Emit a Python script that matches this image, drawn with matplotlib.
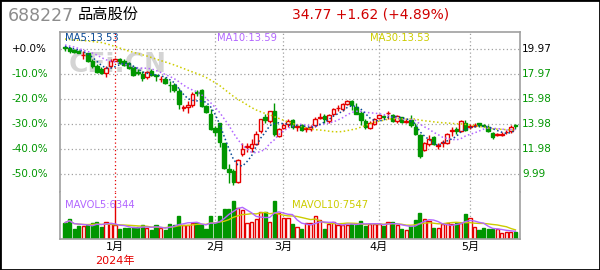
import numpy as np
import pandas as pd
import matplotlib
matplotlib.use('Agg')
import matplotlib.pyplot as plt
import matplotlib.transforms as mtransforms

plt.rcParams['font.family'] = ['DejaVu Sans', 'Noto Sans CJK SC']

# daily OHLC, 2023-12-15 .. 2024-05-20
opens = [20.13, 20.05, 19.92, 19.84, 19.49, 19.65, 19.07, 18.65, 18.39, 18.07,
         18.62, 19.07, 19.20, 19.07, 18.91, 18.52, 18.17, 18.01, 17.75, 18.23,
         17.91, 17.57, 17.59, 17.14, 17.09, 16.61, 15.27, 15.37, 15.53, 16.54,
         16.75, 15.43, 14.77, 13.71, 14.05, 12.47, 10.41, 10.25, 9.40, 11.57,
         12.20, 12.12, 12.44, 13.44, 14.53, 14.24, 15.00, 13.05, 13.68, 14.00,
         14.29, 13.76, 13.89, 13.60, 13.58, 13.95, 14.50, 14.63, 14.26, 14.77,
         15.24, 15.16, 15.61, 15.80, 15.37, 14.90, 14.26, 13.68, 14.00, 14.48,
         14.61, 14.87, 14.69, 14.21, 14.53, 14.18, 14.29, 13.74, 13.10, 11.94,
         12.41, 12.99, 12.28, 12.49, 12.47, 13.47, 13.63, 13.47, 14.10, 13.76,
         13.87, 14.05, 13.92, 13.79, 13.26, 13.15, 13.15, 13.34, 13.42, 13.92]
highs = [20.23, 20.18, 20.00, 19.92, 19.86, 19.71, 19.18, 18.81, 18.54, 18.60,
         19.18, 19.26, 19.28, 19.18, 18.99, 18.60, 18.39, 18.20, 18.23, 18.39,
         17.99, 17.86, 17.75, 17.43, 17.27, 16.88, 15.53, 15.82, 16.54, 16.75,
         16.80, 15.53, 15.21, 13.84, 14.10, 12.52, 10.77, 10.41, 11.20, 12.47,
         12.47, 12.84, 13.42, 14.42, 14.84, 15.06, 15.64, 13.71, 14.10, 14.37,
         14.37, 13.97, 13.97, 13.79, 13.89, 14.58, 14.90, 14.77, 14.84, 15.27,
         15.48, 15.69, 15.95, 15.90, 15.69, 15.00, 14.37, 14.26, 14.50, 14.84,
         14.74, 15.03, 14.77, 14.69, 14.58, 14.42, 14.69, 14.05, 13.18, 12.57,
         13.15, 13.05, 12.52, 12.73, 13.26, 13.74, 13.79, 14.32, 14.32, 14.00,
         14.05, 14.10, 14.00, 13.89, 13.36, 13.31, 13.36, 13.52, 13.89, 14.00]
lows = [19.86, 19.71, 19.71, 19.65, 19.18, 18.99, 18.46, 18.07, 17.99, 17.75,
        18.46, 19.02, 18.81, 18.65, 18.39, 17.86, 17.91, 17.43, 17.57, 17.80,
        17.41, 17.33, 17.20, 16.56, 16.56, 15.21, 15.03, 14.90, 15.37, 16.22,
        15.37, 14.85, 13.52, 13.05, 12.20, 10.41, 9.30, 9.09, 9.30, 11.46,
        11.78, 11.73, 12.36, 13.31, 14.10, 14.10, 13.05, 12.97, 13.58, 13.79,
        13.63, 13.44, 13.42, 13.36, 13.44, 13.79, 14.37, 14.10, 14.05, 14.63,
        15.06, 15.06, 15.48, 15.11, 14.77, 13.95, 13.63, 13.58, 13.95, 14.37,
        14.37, 14.37, 14.16, 14.10, 14.05, 14.05, 13.79, 13.10, 11.30, 11.86,
        12.26, 12.31, 11.99, 12.20, 12.41, 13.05, 13.18, 13.36, 13.42, 13.58,
        13.74, 13.79, 13.79, 13.36, 12.78, 13.05, 13.05, 13.21, 13.31, 13.58]
closes = [20.08, 19.84, 19.79, 19.71, 19.55, 19.07, 18.60, 18.12, 18.07, 18.49,
          19.05, 19.18, 18.86, 18.73, 18.46, 17.91, 18.07, 17.67, 18.17, 17.88,
          17.86, 17.62, 17.27, 17.09, 16.69, 15.56, 15.32, 15.48, 16.43, 16.46,
          15.43, 14.95, 13.63, 13.36, 12.57, 10.46, 10.19, 9.40, 11.09, 12.04,
          12.28, 12.44, 13.23, 14.37, 14.32, 15.00, 13.18, 13.63, 13.95, 14.26,
          13.79, 13.81, 13.50, 13.66, 13.79, 14.37, 14.55, 14.37, 14.74, 15.16,
          15.29, 15.56, 15.82, 15.48, 14.84, 14.32, 13.74, 14.05, 14.42, 14.74,
          14.55, 14.92, 14.21, 14.63, 14.16, 14.24, 13.89, 13.21, 11.41, 12.47,
          12.78, 12.41, 12.33, 12.55, 13.21, 13.52, 13.42, 14.21, 13.52, 13.81,
          13.92, 13.89, 13.87, 13.44, 12.99, 13.21, 13.21, 13.39, 13.79, 13.87]
volumes = [13350, 16290, 8010, 10950, 10680, 11480, 12820, 13880, 9880, 13620,
           12820, 11480, 8280, 8810, 8810, 9610, 10150, 11480, 9080, 7480,
           11750, 8810, 7480, 12280, 11480, 18690, 11750, 11750, 13080, 12820,
           11750, 8280, 18690, 12820, 18960, 24300, 24300, 30700, 24830, 23500,
           13350, 13620, 16290, 21890, 21890, 13880, 30700, 21360, 17090, 17090,
           12550, 9610, 8280, 13350, 13350, 18690, 15490, 8280, 12020, 13620,
           11750, 11210, 11750, 12550, 11750, 14690, 10950, 12020, 12550, 12020,
           10950, 13620, 13880, 11210, 8280, 7480, 10680, 15490, 21090, 16290,
           14690, 9350, 9350, 12020, 12820, 12020, 12820, 12820, 20290, 17090,
           10150, 7480, 9350, 8280, 8280, 8280, 5070, 6140, 6140, 6140]

# moving averages before the window starts
ma5_head = [20.20, 20.10, 20.00, 19.90]
ma10_head = [20.31, 20.23, 20.15, 20.03, 19.91, 19.79, 19.67, 19.51, 19.31]
ma30_head = [20.79, 20.75, 20.71, 20.69, 20.67, 20.63, 20.59, 20.55, 20.51, 20.42,
             20.31, 20.19, 20.07, 19.95, 19.83, 19.73, 19.63, 19.53, 19.43, 19.31,
             19.19, 19.07, 18.96, 18.84, 18.72, 18.58, 18.44, 18.30, 18.16]

base_price = 19.97
pct_levels = [0, -10, -20, -30, -40, -50]
month_idx = [11, 33, 48, 69, 89]
month_labels = ['1月', '2月', '3月', '4月', '5月']

UP = '#e60000'
DOWN = '#009600'
GRID = '#a0a0a0'
C_MA5 = '#0a4a96'
C_MA10 = '#b266ff'
C_MA30 = '#cccc00'

o = np.array(opens)
h = np.array(highs)
l = np.array(lows)
c = np.array(closes)
v = np.array(volumes)
x = np.arange(len(c))
rise = c >= o
cols = np.where(rise, UP, DOWN)
faces = np.where(rise, 'white', DOWN)

s = pd.Series(c)
ma5 = s.rolling(5).mean().values
ma5[:4] = ma5_head
ma10 = s.rolling(10).mean().values
ma10[:9] = ma10_head
ma30 = s.rolling(30).mean().values
ma30[:29] = ma30_head
vs = pd.Series(v)
mavol5 = vs.rolling(5, min_periods=1).mean()
mavol10 = vs.rolling(10, min_periods=1).mean()

W, H = 600, 270
fig = plt.figure(figsize=(6, 2.7), dpi=100)
ax = fig.add_axes([60 / W, 1 - 192 / H, 460 / W, 160 / H])
axv = fig.add_axes([60 / W, 1 - 239.3 / H, 460 / W, 47.3 / H])

# price panel
levels = [base_price * (1 + p / 100) for p in pct_levels]
for lv in levels:
    ax.axhline(lv, color=GRID, ls=(0, (1, 2)), lw=0.9, zorder=1)
for k, m in enumerate(month_idx):
    ax.axvline(m, color=UP if k == 0 else GRID, ls=(0, (1, 2)), lw=0.9, zorder=1)

ax.text(118 / W, 1 - 65 / H, 'CFi.CN', transform=fig.transFigure, fontsize=19,
        fontweight='bold', color='#d4d4d4', ha='center', va='center', zorder=0.5)

ax.vlines(x, l, h, colors=cols, lw=1, zorder=2)
ax.bar(x, np.maximum(np.abs(c - o), 0.025), bottom=np.minimum(o, c), width=0.78,
       color=faces, edgecolor=cols, linewidth=1, zorder=3)

dots = (0, (1, 1.6))
ax.plot(x, ma30, color=C_MA30, ls=dots, lw=1.1, zorder=4)
ax.plot(x, ma10, color=C_MA10, ls=dots, lw=1.1, zorder=4)
ax.plot(x, ma5, color=C_MA5, ls=dots, lw=1.1, zorder=4)

ax.set_xlim(-1.1, 100)
ax.set_ylim(8.57, 21.35)
ax.set_xticks([])
ax.set_yticks([])
for side in ['left', 'top', 'right']:
    ax.spines[side].set_color(GRID)
    ax.spines[side].set_linewidth(1.2)
ax.spines['bottom'].set_visible(False)

tr = mtransforms.blended_transform_factory(fig.transFigure, ax.transData)
for k, (p, lv) in enumerate(zip(pct_levels, levels)):
    col = 'black' if k == 0 else DOWN
    lab = '+0.0%' if p == 0 else '%.1f%%' % p
    fig.text(12 / W, lv, lab, transform=tr, fontsize=7.5, color=col, ha='left', va='center')
    fig.text(522 / W, lv, '%.2f' % (lv + 1e-6), transform=tr, fontsize=7.5, color=col,
             ha='left', va='center')

fig.text(65 / W, 1 - 38 / H, 'MA5:13.53', fontsize=7.2, color=C_MA5, va='center')
fig.text(217 / W, 1 - 38 / H, 'MA10:13.59', fontsize=7.2, color=C_MA10, va='center')
fig.text(370 / W, 1 - 38 / H, 'MA30:13.53', fontsize=7.2, color=C_MA30, va='center')

# volume panel
for k, m in enumerate(month_idx):
    if k == 0:
        axv.axvline(m, ymin=0, ymax=0.8, color=UP, lw=1, zorder=1)
        axv.axvline(m, ymin=0.8, ymax=1, color=UP, ls=(0, (1, 2)), lw=0.9, zorder=1)
    else:
        axv.axvline(m, color=GRID, ls=(0, (1, 2)), lw=0.9, zorder=1)
axv.bar(x, v, width=0.7, color=faces, edgecolor=cols, linewidth=1, zorder=2)
axv.plot(x, mavol10, color=C_MA30, lw=1, zorder=3)
axv.plot(x, mavol5, color=C_MA10, lw=1, zorder=3)
axv.set_xlim(-1.1, 100)
axv.set_ylim(0, 37800)
axv.set_yticks([])
axv.set_xticks(month_idx)
axv.set_xticklabels(month_labels, fontsize=8)
axv.tick_params(axis='x', length=0, pad=2)
for side in ['left', 'bottom', 'right']:
    axv.spines[side].set_color(GRID)
    axv.spines[side].set_linewidth(1.2)
axv.spines['top'].set_visible(False)

fig.text(65 / W, 1 - 205 / H, 'MAVOL5:6344', fontsize=7.2, color=C_MA10, va='center')
fig.text(292 / W, 1 - 205 / H, 'MAVOL10:7547', fontsize=7.2, color=C_MA30, va='center')
fig.text(115 / W, 1 - 261 / H, '2024年', fontsize=8, color=UP, ha='center', va='center')

# header
fig.text(8 / W, 1 - 16 / H, '688227', fontsize=12.5, color='#8c8c8c', va='center')
fig.text(78 / W, 1 - 15 / H, '品高股份', fontsize=11, color='black', va='center')
fig.text(292 / W, 1 - 14 / H, '34.77 +1.62 (+4.89%)', fontsize=10, color='#d00000',
         va='center')

fig.patches.append(plt.Rectangle((0, 0), 1, 1, transform=fig.transFigure, fill=False,
                                 ec='black', lw=2))

fig.savefig('out.png', dpi=100)
